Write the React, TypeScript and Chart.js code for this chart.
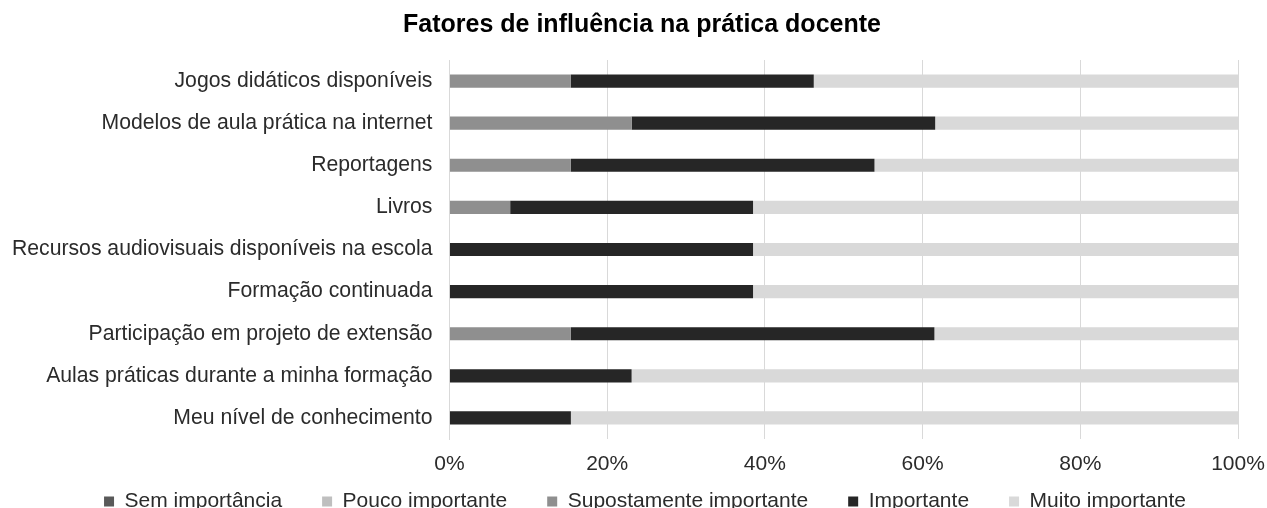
import React, { useEffect, useRef } from "react";
import { Chart, registerables } from "chart.js";

Chart.register(...registerables);

const title = "Fatores de influência na prática docente";

const categories = [
  "Jogos didáticos disponíveis",
  "Modelos de aula prática na internet",
  "Reportagens",
  "Livros",
  "Recursos audiovisuais disponíveis na escola",
  "Formação continuada",
  "Participação em projeto de extensão",
  "Aulas práticas durante a minha formação",
  "Meu nível de conhecimento",
];

const seriesNames = [
  "Sem importância",
  "Pouco importante",
  "Supostamente importante",
  "Importante",
  "Muito importante",
];

const semImportancia = [0, 0, 0, 0, 0, 0, 0, 0, 0];
const poucoImportante = [0, 0, 0, 0, 0, 0, 0, 0, 0];
const supostamenteImportante = [15.4, 23.1, 15.4, 7.7, 0, 0, 15.4, 0, 0];
const importante = [30.8, 38.5, 38.5, 30.8, 38.5, 38.5, 46.1, 23.1, 15.4];
const muitoImportante = [53.8, 38.4, 46.1, 61.5, 61.5, 61.5, 38.5, 76.9, 84.6];

const xTicks = [0, 20, 40, 60, 80, 100];

const seriesColors = ["#595959", "#bfbfbf", "#8f8f8f", "#262626", "#d9d9d9"];

const FONT = "'Liberation Sans', Arial, sans-serif";
const TEXT_COLOR = "#2b2b2b";

export default function App() {
  const ref = useRef<HTMLCanvasElement | null>(null);

  useEffect(() => {
    document.body.style.margin = "0";
    const ctx = ref.current;
    if (!ctx) return;
    const values = [
      semImportancia,
      poucoImportante,
      supostamenteImportante,
      importante,
      muitoImportante,
    ];
    const titlePlugin = {
      id: "offsetTitle",
      afterLayout(chart: any) {
        const lg = chart.legend;
        if (lg) {
          lg.left += 21;
          lg.right += 21;
        }
      },
      afterDraw(chart: any) {
        const c = chart.ctx;
        c.save();
        c.font = `bold 25px ${FONT}`;
        c.fillStyle = "#000";
        c.textAlign = "center";
        c.textBaseline = "middle";
        c.fillText(title, chart.width / 2 + 8.5, 25);
        c.restore();
      },
    };
    const chart = new Chart(ctx, {
      type: "bar",
      data: {
        labels: categories,
        datasets: seriesNames.map((name, i) => ({
          label: name,
          data: values[i],
          backgroundColor: seriesColors[i],
          borderWidth: 0,
          barPercentage: 1,
          categoryPercentage: 0.313,
        })),
      },
      options: {
        indexAxis: "y",
        responsive: false,
        animation: false,
        maintainAspectRatio: false,
        layout: { padding: { left: 10, right: 29, top: 60, bottom: 0 } },
        scales: {
          x: {
            stacked: true,
            min: 0,
            max: 100,
            afterBuildTicks: (axis: any) => {
              axis.ticks = xTicks.map((v) => ({ value: v }));
            },
            afterFit: (axis: any) => {
              axis.height = 12;
            },
            ticks: {
              callback: (v: any) => `${v}%`,
              color: TEXT_COLOR,
              font: { family: FONT, size: 21 },
              mirror: true,
              padding: -37.8,
              maxRotation: 0,
            },
            grid: { color: "#d9d9d9", drawTicks: false },
            border: { display: false },
          },
          y: {
            stacked: true,
            afterFit: (axis: any) => {
              axis.width -= 15;
            },
            ticks: {
              color: TEXT_COLOR,
              font: { family: FONT, size: 21.2 },
              padding: 17,
              autoSkip: false,
            },
            grid: { display: false, drawTicks: false },
            border: { display: true, color: "#d9d9d9" },
          },
        },
        plugins: {
          title: { display: false },
          tooltip: { enabled: false },
          legend: {
            position: "bottom",
            labels: {
              boxWidth: 10,
              boxHeight: 10,
              padding: 40,
              color: TEXT_COLOR,
              font: { family: FONT, size: 21 },
            },
          },
        },
      },
      plugins: [titlePlugin],
    });
    return () => chart.destroy();
  }, []);

  return (
    <div style={{ position: "absolute", left: 0, top: 0, width: 1267, height: 522 }}>
      <canvas ref={ref} width={1267} height={522} />
    </div>
  );
}
